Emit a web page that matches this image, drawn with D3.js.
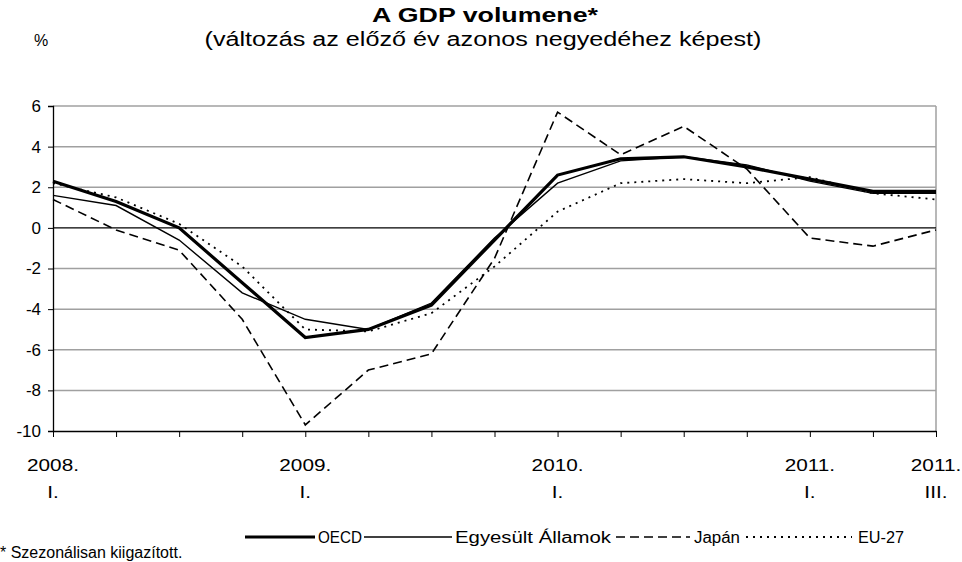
<!DOCTYPE html>
<html>
<head>
<meta charset="utf-8">
<script src="https://cdn.jsdelivr.net/npm/d3@7"></script>
<style>
  html, body { margin: 0; padding: 0; background: #fff; }
  svg { display: block; font-family: "Liberation Sans", Arial, sans-serif; }
</style>
</head>
<body>
<svg id="chart" width="962" height="562"></svg>
<script>
'use strict';

// quarters 2008 Q1 .. 2011 Q3
var QUARTERS = ['2008Q1', '2008Q2', '2008Q3', '2008Q4', '2009Q1', '2009Q2', '2009Q3', '2009Q4',
  '2010Q1', '2010Q2', '2010Q3', '2010Q4', '2011Q1', '2011Q2', '2011Q3'];
var YEAR_LABELS = ['2008.', '', '', '', '2009.', '', '', '', '2010.', '', '', '', '2011.', '', '2011.'];
var QUARTER_LABELS = ['I.', '', '', '', 'I.', '', '', '', 'I.', '', '', '', 'I.', '', 'III.'];

var OECD = [2.3, 1.3, 0.0, -2.7, -5.4, -5.0, -3.8, -0.6, 2.6, 3.4, 3.5, 3.0, 2.4, 1.8, 1.8];
var USA = [1.6, 1.1, -0.6, -3.2, -4.5, -5.0, -3.7, -0.5, 2.2, 3.3, 3.5, 3.1, 2.3, 1.7, 1.7];
var JAPAN = [1.4, -0.1, -1.1, -4.5, -9.7, -7.0, -6.2, -1.5, 5.7, 3.6, 5.0, 2.9, -0.5, -0.9, -0.1];
var EU27 = [2.2, 1.5, 0.2, -1.9, -5.0, -5.1, -4.2, -1.9, 0.8, 2.2, 2.4, 2.2, 2.5, 1.7, 1.4];

var Y_TICKS = [-10, -8, -6, -4, -2, 0, 2, 4, 6];

var SERIES = [
  { name: 'OECD', values: OECD, width: 3.2, dash: null },
  { name: 'Egyesült Államok', values: USA, width: 1.4, dash: null },
  { name: 'Japán', values: JAPAN, width: 1.6, dash: '9,5' },
  { name: 'EU-27', values: EU27, width: 1.8, dash: '2,5' }
];

(function draw() {
  var svg = d3.select('#chart');
  var plotLeft = 53, plotRight = 936, plotTop = 106, plotBottom = 431;

  var x = d3.scalePoint().domain(QUARTERS).range([plotLeft, plotRight]);
  var y = d3.scaleLinear().domain([-10, 6]).range([plotBottom, plotTop]);

  // the source picture renders its text wider than Arial; widen glyphs to match
  function widen(sel, factor) {
    sel.each(function () {
      var w = this.getComputedTextLength();
      d3.select(this).attr('textLength', w * factor).attr('lengthAdjust', 'spacingAndGlyphs');
    });
  }

  // title
  svg.append('text')
    .attr('x', 485).attr('y', 22)
    .attr('text-anchor', 'middle')
    .style('font-size', '20px').style('font-weight', 'bold')
    .attr('textLength', 226).attr('lengthAdjust', 'spacingAndGlyphs')
    .text('A GDP volumene*');
  svg.append('text')
    .attr('x', 483).attr('y', 46)
    .attr('text-anchor', 'middle')
    .style('font-size', '20px')
    .attr('textLength', 557).attr('lengthAdjust', 'spacingAndGlyphs')
    .text('(változás az előző év azonos negyedéhez képest)');
  svg.append('text')
    .attr('x', 41).attr('y', 46)
    .attr('text-anchor', 'middle')
    .style('font-size', '16px')
    .text('%');

  // gridlines
  svg.append('g').selectAll('line')
    .data(Y_TICKS.filter(function (t) { return t !== 0 && t !== -10; }))
    .join('line')
    .attr('x1', plotLeft).attr('x2', plotRight)
    .attr('y1', function (d) { return y(d); })
    .attr('y2', function (d) { return y(d); })
    .style('stroke', '#a0a0a0').style('stroke-width', 1.5);

  svg.append('line')
    .attr('x1', plotRight).attr('x2', plotRight).attr('y1', plotTop).attr('y2', plotBottom)
    .style('stroke', '#a0a0a0').style('stroke-width', 1.5);

  // zero line
  svg.append('line')
    .attr('x1', plotLeft).attr('x2', plotRight).attr('y1', y(0)).attr('y2', y(0))
    .style('stroke', '#000').style('stroke-width', 1.3);

  // y axis
  var yAxis = svg.append('g')
    .attr('transform', 'translate(' + plotLeft + ',0)')
    .call(d3.axisLeft(y).tickValues(Y_TICKS).tickSize(5).tickPadding(7)
      .tickFormat(function (d) { return String(d); }));
  yAxis.select('.domain').style('stroke', '#000').style('stroke-width', 1.3);
  yAxis.selectAll('text').style('font-size', '17px').style('font-family', '"Liberation Sans", Arial, sans-serif').style('fill', '#000');

  // x axis
  var xAxis = svg.append('g')
    .attr('transform', 'translate(0,' + plotBottom + ')')
    .call(d3.axisBottom(x).tickSize(6).tickSizeOuter(0).tickFormat(''));
  xAxis.select('.domain').style('stroke', '#000').style('stroke-width', 1.3);

  var xLabels = svg.append('g').selectAll('g')
    .data(QUARTERS.filter(function (q, i) { return YEAR_LABELS[i] !== ''; }))
    .join('g')
    .attr('transform', function (d) { return 'translate(' + x(d) + ',0)'; });
  xLabels.append('text')
    .attr('y', 471).attr('text-anchor', 'middle')
    .style('font-size', '17px')
    .text(function (d) { return YEAR_LABELS[QUARTERS.indexOf(d)]; })
    .call(widen, 1.22);
  xLabels.append('text')
    .attr('y', 498).attr('text-anchor', 'middle')
    .style('font-size', '17px')
    .text(function (d) { return QUARTER_LABELS[QUARTERS.indexOf(d)]; })
    .call(widen, 1.22);

  // series
  var line = d3.line()
    .x(function (d, i) { return x(QUARTERS[i]); })
    .y(function (d) { return y(d); });

  svg.append('g').selectAll('path')
    .data(SERIES.slice().reverse())
    .join('path')
    .attr('d', function (s) { return line(s.values); })
    .style('fill', 'none')
    .style('stroke', '#000')
    .style('stroke-width', function (s) { return s.width; })
    .style('stroke-dasharray', function (s) { return s.dash; })
    .style('stroke-linejoin', 'miter');

  // legend
  var legendPos = [
    { x0: 245, x1: 315, tx: 318, w: 44 },
    { x0: 364, x1: 452, tx: 455, w: 156 },
    { x0: 616, x1: 690, tx: 694, w: 46 },
    { x0: 746, x1: 852, tx: 858, w: 46 }
  ];
  var legendY = 537;
  var legend = svg.append('g').selectAll('g')
    .data(SERIES)
    .join('g');
  legend.append('line')
    .attr('x1', function (s, i) { return legendPos[i].x0; })
    .attr('x2', function (s, i) { return legendPos[i].x1; })
    .attr('y1', legendY).attr('y2', legendY)
    .style('stroke', '#000')
    .style('stroke-width', function (s) { return s.width; })
    .style('stroke-dasharray', function (s) { return s.dash; });
  legend.append('text')
    .attr('x', function (s, i) { return legendPos[i].tx; })
    .attr('y', legendY + 6)
    .style('font-size', '16px')
    .attr('textLength', function (s, i) { return legendPos[i].w; })
    .attr('lengthAdjust', 'spacingAndGlyphs')
    .text(function (s) { return s.name; });

  svg.append('text')
    .attr('x', 0).attr('y', 558)
    .style('font-size', '16px')
    .text('* Szezonálisan kiigazított.');
}());
</script>
</body>
</html>
